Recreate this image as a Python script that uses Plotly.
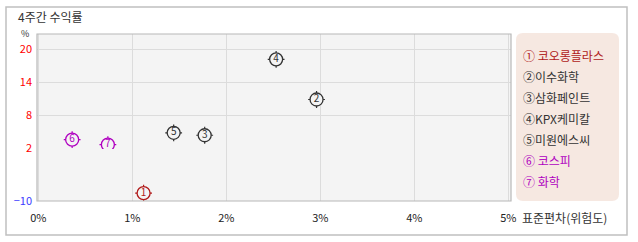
import plotly.graph_objects as go

# ---------------- data ----------------
labels = ["1", "2", "3", "4", "5", "6", "7"]
names = ["① 코오롱플라스", "②이수화학", "③삼화페인트", "④KPX케미칼", "⑤미원에스씨", "⑥ 코스피", "⑦ 화학"]
std_dev = [1.12, 2.96, 1.77, 2.53, 1.44, 0.36, 0.74]      # 표준편차 (%)
returns = [-8.2, 10.9, 4.4, 18.2, 4.85, 3.6, 2.7]         # 4주간 수익률 (%)
colors = ["#b01a1a", "#333333", "#333333", "#333333", "#333333", "#b000c0", "#b000c0"]

x_ticks = [0, 1, 2, 3, 4, 5]
x_ticktext = ["0%", "1%", "2%", "3%", "4%", "5%"]
y_ticks_upper = [20, 14, 8, 2]
y_ticks_lower = [-10]

# ---------------- layout geometry (pixels) ----------------
W, H = 638, 242
L, R, T, B = 37, 511, 34, 201
pw, ph = R - L, B - T

def px(x):
    return (x - L) / pw

def py(y):
    return (B - y) / ph

split = 1.9  # value where the y scale changes (just below the "2" grid line)
split_frac = 52 / ph

FONT = "Noto Sans CJK KR, Noto Sans, sans-serif"

fig = go.Figure()

for xv, yv, lab, col in zip(std_dev, returns, labels, colors):
    ya = "y" if yv >= split else "y2"
    fig.add_trace(go.Scatter(
        x=[xv], y=[yv], yaxis=ya, mode="markers",
        marker=dict(symbol="cross-thin-open", size=12, color=col, line=dict(color=col, width=1.2)),
        hoverinfo="skip", showlegend=False))
    fig.add_trace(go.Scatter(
        x=[xv], y=[yv], yaxis=ya, mode="markers+text",
        marker=dict(symbol="circle", size=13, color="#f4f4f4", line=dict(color=col, width=1.3)),
        text=[lab], textposition="middle center",
        textfont=dict(size=10, color=col, family=FONT),
        showlegend=False))

fig.update_layout(
    width=W, height=H,
    margin=dict(l=L, r=W - R, t=T, b=H - B, pad=0),
    paper_bgcolor="white",
    plot_bgcolor="#f4f4f4",
    font=dict(family=FONT, size=11, color="#333333"),
    xaxis=dict(range=[-0.014, (R - 38.3) / 94], tickvals=x_ticks, ticktext=x_ticktext,
               showgrid=True, gridcolor="#dcdcdc", gridwidth=1, zeroline=False,
               showline=False, ticks="", anchor="y2", ticklabelstandoff=9,
               tickfont=dict(size=11, color="#222222", family=FONT)),
    yaxis=dict(domain=[split_frac, 1], range=[split, split + 115 / 5.5], tickvals=y_ticks_upper,
               showgrid=True, gridcolor="#dcdcdc", gridwidth=1, zeroline=False,
               showline=False, ticks="", ticklabelstandoff=4,
               tickfont=dict(size=11, color="#ff0000", family=FONT)),
    yaxis2=dict(domain=[0, split_frac], range=[-10, split], tickvals=y_ticks_lower,
                showgrid=False, zeroline=False, showline=False, ticks="", ticklabelstandoff=4,
                tickfont=dict(size=11, color="#3b3bff", family=FONT)),
)

shapes = []
# outer frame
shapes.append(dict(type="rect", xref="paper", yref="paper",
                   x0=px(6), x1=px(627), y0=py(235), y1=py(7),
                   line=dict(color="#c0c0c0", width=1.5), fillcolor="rgba(0,0,0,0)", layer="below"))
# plot frame
shapes.append(dict(type="rect", xref="paper", yref="paper", x0=0, x1=1, y0=0, y1=1,
                   line=dict(color="#b8b8b8", width=1.2), fillcolor="rgba(0,0,0,0)"))
# legend box with rounded corners
lx0, lx1, ly0, ly1, r = 516, 619, 33, 201, 7
path = (f"M {px(lx0 + r)},{py(ly0)} L {px(lx1 - r)},{py(ly0)} "
        f"Q {px(lx1)},{py(ly0)} {px(lx1)},{py(ly0 + r)} "
        f"L {px(lx1)},{py(ly1 - r)} Q {px(lx1)},{py(ly1)} {px(lx1 - r)},{py(ly1)} "
        f"L {px(lx0 + r)},{py(ly1)} Q {px(lx0)},{py(ly1)} {px(lx0)},{py(ly1 - r)} "
        f"L {px(lx0)},{py(ly0 + r)} Q {px(lx0)},{py(ly0)} {px(lx0 + r)},{py(ly0)} Z")
shapes.append(dict(type="path", xref="paper", yref="paper", path=path,
                   line=dict(width=0), fillcolor="#f6e8e1", layer="below"))
fig.update_layout(shapes=shapes)

ann = []
ann.append(dict(text="4주간 수익률", x=px(16), y=py(17), xref="paper", yref="paper",
                xanchor="left", yanchor="middle", showarrow=False,
                font=dict(size=12, color="#333333", family=FONT)))
ann.append(dict(text="%", x=px(25), y=py(33), xref="paper", yref="paper",
                xanchor="center", yanchor="middle", showarrow=False,
                font=dict(size=9, color="#333333", family=FONT)))
ann.append(dict(text="표준편차(위험도)", x=px(520), y=py(217), xref="paper", yref="paper",
                xanchor="left", yanchor="middle", showarrow=False,
                font=dict(size=12, color="#333333", family=FONT)))
for i, (nm, col) in enumerate(zip(names, colors)):
    ann.append(dict(text=nm, x=px(521), y=py(55 + 21 * i), xref="paper", yref="paper",
                    xanchor="left", yanchor="middle", showarrow=False,
                    font=dict(size=12, color=col, family=FONT)))
fig.update_layout(annotations=ann)

fig.write_html("out.html")
